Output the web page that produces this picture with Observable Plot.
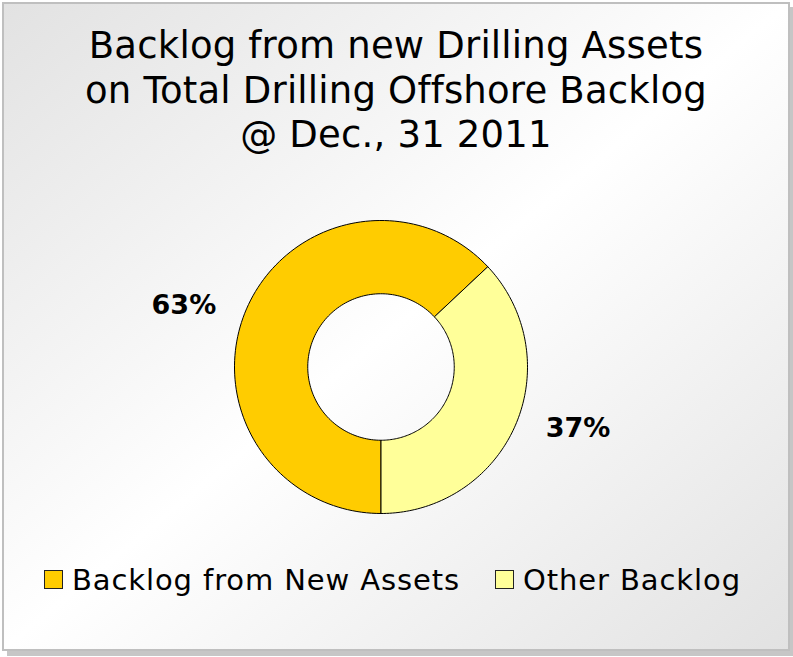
<!DOCTYPE html>
<html>
<head>
<meta charset="utf-8">
<script src="https://cdn.jsdelivr.net/npm/d3@7"></script>
<script src="https://cdn.jsdelivr.net/npm/@observablehq/plot@0.6"></script>
<style>
  html, body { margin: 0; padding: 0; width: 793px; height: 657px; overflow: hidden; background: #ffffff; }
  body { position: relative; font-family: "DejaVu Sans", Verdana, sans-serif; }
  #frame {
    position: absolute; left: 2px; top: 2px; width: 788px; height: 649px;
    box-sizing: border-box; border: 2px solid #bfbfbf;
    background: linear-gradient(to bottom right, #e2e2e2 0%, #ffffff 50%, #e2e2e2 100%);
    box-shadow: 5px 5px 0 #c6c6c6;
  }
  #title {
    position: absolute; left: 0; top: 24px; width: 792px; text-align: center;
    font-size: 37px; line-height: 44.7px; letter-spacing: 0.2px; color: #000;
  }
  #chart { position: absolute; left: 0; top: 170px; }
  #legend {
    position: absolute; left: 44px; top: 563px; display: flex; gap: 35px;
    font-size: 29px; line-height: 34px; letter-spacing: 0.9px; color: #000;
  }
  .item { display: flex; align-items: flex-start; }
  .sw { width: 17px; height: 17px; border: 1px solid #222; margin-top: 7px; margin-right: 9px; }
</style>
</head>
<body>
<div id="frame"></div>
<div id="title"></div>
<div id="chart"></div>
<div id="legend"></div>
<script>
// ---- data ----
const titleLines = ["Backlog from new Drilling Assets", "on Total Drilling Offshore Backlog", "@ Dec., 31 2011"];
const categories = ["Backlog from New Assets", "Other Backlog"];
const values = [63, 37];
const labels = ["63%", "37%"];
const colors = ["#FFCC00", "#FFFF99"];

// ---- title ----
document.getElementById("title").innerHTML = titleLines.join("<br>");

// ---- build slice polygons from the values ----
const total = d3.sum(values);
const startAngle = Math.PI;          // first slice starts at the bottom (180°)
const innerRatio = 0.5;
const steps = 120;
const pts = [];
const labelPts = [];
let a = startAngle;
values.forEach((v, i) => {
  const a0 = a, a1 = a + (v / total) * 2 * Math.PI;
  const ring = [];
  for (let k = 0; k <= steps; k++) {
    const t = a0 + (a1 - a0) * k / steps;
    ring.push({name: categories[i], x: Math.sin(t), y: Math.cos(t)});
  }
  for (let k = steps; k >= 0; k--) {
    const t = a0 + (a1 - a0) * k / steps;
    ring.push({name: categories[i], x: innerRatio * Math.sin(t), y: innerRatio * Math.cos(t)});
  }
  ring.push({...ring[0]});
  pts.push(...ring);
  const mid = (a0 + a1) / 2 - 6 * Math.PI / 180;
  labelPts.push({label: labels[i], x: 1.41 * Math.sin(mid), y: 1.40 * Math.cos(mid)});
  a = a1;
});

const cy = 196.5, R = 146.5, cx = 380.5;
const chart = Plot.plot({
  width: 793,
  height: 400,
  margin: 0,
  x: {domain: [-1, 1], range: [cx - R, cx + R], axis: null},
  y: {domain: [-1, 1], range: [cy + R, cy - R], axis: null},
  color: {domain: categories, range: colors},
  style: {background: "transparent", overflow: "visible", fontFamily: "DejaVu Sans, Verdana, sans-serif"},
  marks: [
    Plot.line(pts, {x: "x", y: "y", z: "name", fill: "name", stroke: "#000", strokeWidth: 1, curve: "linear"}),
    Plot.text(labelPts, {x: "x", y: "y", text: "label", fontSize: 27, fontWeight: "bold", fill: "#000",
      textAnchor: "middle", lineAnchor: "middle", style: "letter-spacing:1.5px"})
  ]
});
document.getElementById("chart").appendChild(chart);

// ---- legend ----
const legend = document.getElementById("legend");
categories.forEach((c, i) => {
  const it = document.createElement("div");
  it.className = "item";
  const sw = document.createElement("div");
  sw.className = "sw";
  sw.style.background = colors[i];
  const tx = document.createElement("span");
  tx.textContent = c;
  it.appendChild(sw); it.appendChild(tx);
  legend.appendChild(it);
});
</script>
</body>
</html>
